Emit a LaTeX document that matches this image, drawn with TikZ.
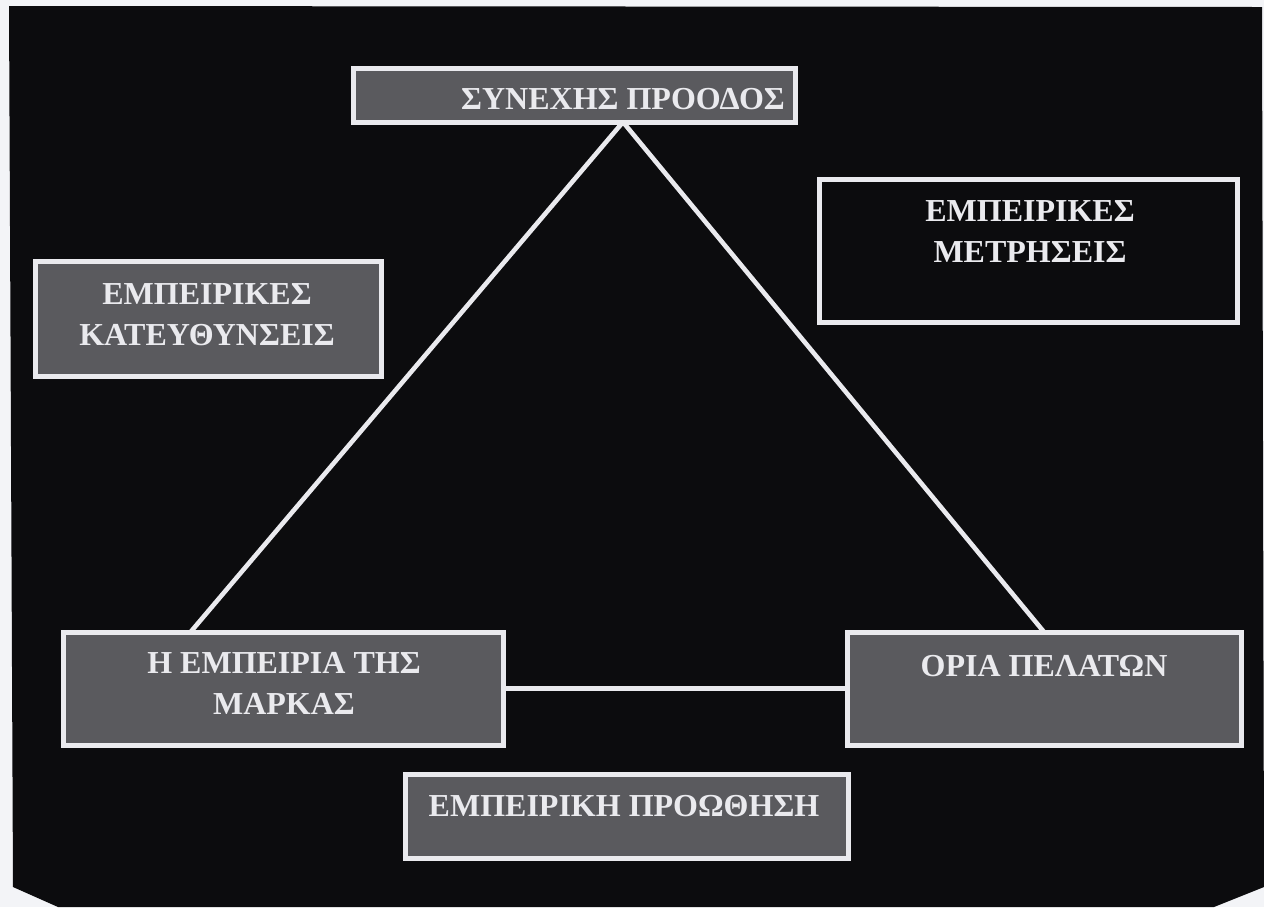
\documentclass[tikz,border=0pt]{standalone}
\usepackage{fontspec}
\setmainfont{Liberation Serif}
\usetikzlibrary{calc}

\definecolor{pagebg}{RGB}{243,244,247}
\definecolor{panel}{RGB}{12,12,14}
\definecolor{boxgray}{RGB}{90,90,94}
\definecolor{rim}{RGB}{234,234,238}

\begin{document}
\begin{tikzpicture}[x=0.5pt, y=-0.5pt,
      box/.style={rectangle, draw=rim, line width=2.5pt, fill=boxgray, inner sep=0pt, outer sep=0pt},
      darkbox/.style={box, fill=panel},
      caption/.style={text=rim, font=\fontsize{16}{20.5}\selectfont\bfseries, align=center, inner sep=0pt},
      link/.style={draw=rim, line width=2.3pt}
    ]
    \useasboundingbox[fill=pagebg] (0,0) rectangle (1264,907);
    % black panel with cut bottom corners
    \fill[panel] (9,6) -- (1262,7) -- (1264,887) -- (1214,907) -- (58,907) -- (13,887) -- cycle;

    % boxes
    \node[box, minimum width=221pt, minimum height=27pt] (progbox) at (574,95) {};
    \node[box, minimum width=173pt, minimum height=57.5pt] (katbox) at (208,318.5) {};
    \node[darkbox, minimum width=209pt, minimum height=71.5pt] (metbox) at (1028,250.5) {};
    \node[box, minimum width=220pt, minimum height=56.5pt] (markbox) at (283,688.5) {};
    \node[box, minimum width=197pt, minimum height=56.5pt] (oriabox) at (1044,688.5) {};
    \node[box, minimum width=221.5pt, minimum height=42pt] (prowbox) at (626.5,816) {};

    % texts
    \node[caption] (prog) at (623,99) {ΣΥΝΕΧΗΣ ΠΡΟΟΔΟΣ};
    \node[caption] (kat) at (207,315) {ΕΜΠΕΙΡΙΚΕΣ\\ΚΑΤΕΥΘΥΝΣΕΙΣ};
    \node[caption] (met) at (1030,232) {ΕΜΠΕΙΡΙΚΕΣ\\ΜΕΤΡΗΣΕΙΣ};
    \node[caption] (mark) at (284,683) {Η ΕΜΠΕΙΡΙΑ ΤΗΣ\\ΜΑΡΚΑΣ};
    \node[caption] (oria) at (1044,666) {ΟΡΙΑ ΠΕΛΑΤΩΝ};
    \node[caption] (prow) at (624,806) {ΕΜΠΕΙΡΙΚΗ ΠΡΟΩΘΗΣΗ};

    % triangle
    \draw[link] (progbox.south -| prog) -- ($(markbox.north west)!0.29!(markbox.north east)$);
    \draw[link] (progbox.south -| prog) -- (oriabox.north);
    \draw[link] (markbox) -- (oriabox);
  \end{tikzpicture}
\end{document}
